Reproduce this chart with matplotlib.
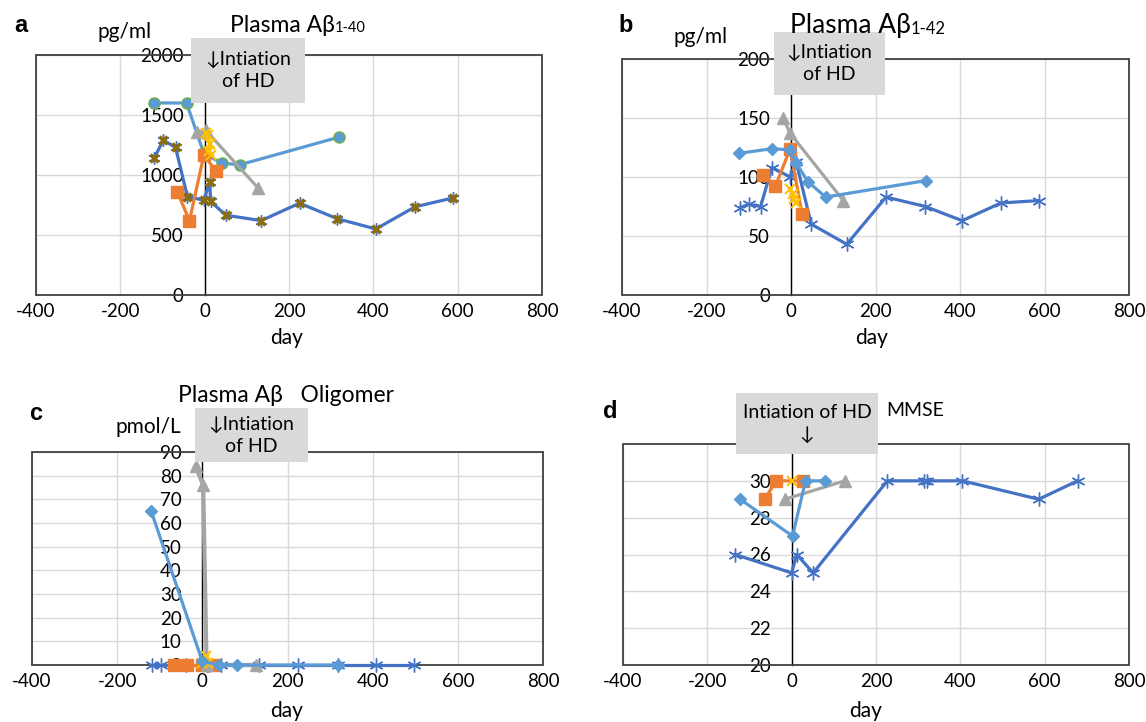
import matplotlib
matplotlib.use('Agg')
import matplotlib.pyplot as plt
from matplotlib.patches import Rectangle

plt.rcParams['font.family'] = ['Lato', 'DejaVu Sans']
plt.rcParams['axes.unicode_minus'] = False

W, H = 1146, 722

DBLUE = '#4472C4'
ORANGE = '#ED7D31'
GRAY = '#A5A5A5'
YELLOW = '#FFC000'
LBLUE = '#5B9BD5'
GREEN = '#70AD47'
BROWN = '#8C6D0B'
STAR = (6, 2, 0)

x_ticks = [-400, -200, 0, 200, 400, 600, 800]

# a: plasma Abeta 1-40 (pg/ml)
a_blue_day = [-120, -98, -69, -41, -2, 12, 14, 50, 134, 225, 315, 406, 499, 590]
a_blue_val = [1140, 1290, 1230, 820, 790, 940, 780, 665, 620, 765, 635, 550, 735, 810]
a_orange_day = [-65, -36, -2, 28]
a_orange_val = [860, 620, 1165, 1030]
a_gray_day = [-17, 2, 127]
a_gray_val = [1355, 1375, 890]
a_yellow_day = [3, 8, 12, 10, 14]
a_yellow_val = [1350, 1330, 1260, 1200, 1170]
a_lblue_day = [-120, -43, -2, 40, 83, 318]
a_lblue_val = [1600, 1600, 1180, 1100, 1085, 1315]
a_yticks = [0, 500, 1000, 1500, 2000]

# b: plasma Abeta 1-42 (pg/ml)
b_blue_day = [-120, -100, -72, -45, -2, 12, 48, 132, 225, 318, 405, 497, 586]
b_blue_val = [74, 77, 75, 108, 100, 113, 60, 43, 83, 75, 63, 78, 80]
b_orange_day = [-67, -37, -2, 26]
b_orange_val = [102, 92, 124, 69]
b_gray_day = [-19, -2, 124]
b_gray_val = [150, 137, 80]
b_yellow_day = [-2, 4, 8, 12]
b_yellow_val = [90, 86, 81, 78]
b_lblue_day = [-124, -45, -2, 12, 40, 82, 320]
b_lblue_val = [120, 124, 123, 112, 96, 83, 97]
b_yticks = [0, 50, 100, 150, 200]

# c: plasma Abeta oligomer (pmol/L)
c_blue_day = [-119, -96, -39, 11, 15, 45, 133, 225, 319, 408, 498]
c_blue_val = [0, 0, 0, 0, 0, 0, 0, 0, 0, 0, 0]
c_orange_day = [-67, -37, 0, 28]
c_orange_val = [0, 0, 0, 0]
c_gray_day = [-16, 2, 10, 125]
c_gray_val = [84, 76, 0, 0]
c_yellow_day = [0, 5, 9, 14]
c_yellow_val = [1, 2, 4, 1]
c_lblue_day = [-120, 0, 40, 82, 318]
c_lblue_val = [65, 1.5, 0, 0, 0]
c_yticks = [0, 10, 20, 30, 40, 50, 60, 70, 80, 90]

# d: MMSE
d_blue_day = [-134, 0, 12, 51, 227, 315, 322, 405, 586, 678]
d_blue_val = [26, 25, 26, 25, 30, 30, 30, 30, 29, 30]
d_orange_day = [-64, -37, 28]
d_orange_val = [29, 30, 30]
d_gray_day = [-16, 126]
d_gray_val = [29, 30]
d_yellow_day = [0]
d_yellow_val = [30]
d_lblue_day = [-122, 2, 33, 80]
d_lblue_val = [29, 27, 30, 30]
d_yticks = [20, 22, 24, 26, 28, 30]


def fx(x):
    return x / W


def fy(y):
    return 1 - y / H


def panel(left, top, right, bottom, ylim, yticks):
    ax = fig.add_axes([fx(left), fy(bottom), (right - left) / W, (bottom - top) / H])
    ax.set_xlim(-400, 800)
    ax.set_ylim(*ylim)
    ax.set_xticks(x_ticks)
    ax.set_yticks(yticks)
    ax.grid(color='#D9D9D9', lw=1)
    ax.set_axisbelow(True)
    for s in ['top', 'right', 'bottom']:
        ax.spines[s].set_visible(False)
    ax.spines['left'].set_position(('data', 0))
    ax.spines['left'].set_color('black')
    ax.spines['left'].set_linewidth(1)
    ax.add_patch(Rectangle((0, 0), 1, 1, transform=ax.transAxes, fill=False,
                           ec='#404040', lw=1.3, clip_on=False, zorder=3))
    ax.tick_params(axis='both', length=0, labelsize=13.5)
    ax.tick_params(axis='x', pad=6)
    ax.tick_params(axis='y', pad=15)
    return ax


def series(ax, days, vals, color, marker, ms, lw=2.3, **kw):
    ax.plot(days, vals, color=color, lw=lw, marker=marker, ms=ms, zorder=4,
            clip_on=False, **kw)


def hd_box(x0, y0, x1, y1, label, ty=None):
    fig.patches.append(Rectangle((fx(x0), fy(y1)), (x1 - x0) / W, (y1 - y0) / H,
                                 transform=fig.transFigure, fc='#D9D9D9', ec='none', zorder=10))
    fig.text(fx((x0 + x1) / 2), fy((y0 + y1) / 2 if ty is None else ty), label,
             ha='center', va='center', fontsize=14, linespacing=1.35, zorder=11)


def title_sub(x, y, main, sub, size, subsize):
    t = fig.text(fx(x), fy(y), main, fontsize=size, ha='left', va='baseline', zorder=12)
    fig.axes[0].annotate(sub, xy=(1, 0), xycoords=t, xytext=(0, 1), textcoords='offset points',
                         fontsize=subsize, ha='left', va='bottom', annotation_clip=False)


fig = plt.figure(figsize=(W / 100, H / 100), dpi=100)

# ---- panel a
ax = panel(36, 55, 542, 295, (0, 2000), a_yticks)
series(ax, a_blue_day, a_blue_val, DBLUE, STAR, 9, mew=1)
ax.plot(a_blue_day, a_blue_val, ls='none', marker='x', color=BROWN, ms=6, mew=2.5, zorder=4)
series(ax, a_lblue_day, a_lblue_val, LBLUE, 'o', 8, mec=GREEN, mew=1)
series(ax, a_orange_day, a_orange_val, ORANGE, 's', 9)
series(ax, a_gray_day, a_gray_val, GRAY, '^', 9)
series(ax, a_yellow_day, a_yellow_val, YELLOW, 'x', 7, mew=1.5)

# ---- panel b
bx = panel(622, 59, 1129, 295, (0, 200), b_yticks)
series(bx, b_blue_day, b_blue_val, DBLUE, STAR, 10, mew=1)
series(bx, b_orange_day, b_orange_val, ORANGE, 's', 8)
series(bx, b_gray_day, b_gray_val, GRAY, '^', 9)
series(bx, b_yellow_day, b_yellow_val, YELLOW, 'x', 7, mew=1.5)
series(bx, b_lblue_day, b_lblue_val, LBLUE, 'D', 6)

# ---- panel c
cx = panel(32, 452, 543, 665, (0, 90), c_yticks)
series(cx, c_blue_day, c_blue_val, DBLUE, STAR, 10, mew=1)
series(cx, c_orange_day, c_orange_val, ORANGE, 's', 8)
series(cx, c_gray_day, c_gray_val, GRAY, '^', 9, lw=3)
series(cx, c_yellow_day, c_yellow_val, YELLOW, 'x', 7, mew=1.5)
series(cx, c_lblue_day, c_lblue_val, LBLUE, 'D', 6)

# ---- panel d
dx = panel(623, 444, 1129, 665, (20, 32), d_yticks)
series(dx, d_blue_day, d_blue_val, DBLUE, STAR, 10, mew=1)
series(dx, d_orange_day, d_orange_val, ORANGE, 's', 8)
series(dx, d_gray_day, d_gray_val, GRAY, '^', 9)
series(dx, d_yellow_day, d_yellow_val, YELLOW, 'x', 7, mew=1.5)
series(dx, d_lblue_day, d_lblue_val, LBLUE, 'D', 6)

# x axis labels
for x, y in [(287, 338), (872, 338), (287, 711), (866, 711)]:
    fig.text(fx(x), fy(y), 'day', ha='center', va='center', fontsize=15)

# panel letters
for s, x, y in [('a', 21, 26), ('b', 626, 25), ('c', 36, 413), ('d', 610, 412)]:
    fig.text(fx(x), fy(y), s, ha='center', va='center', fontsize=17,
             fontweight='bold', family='Liberation Sans')

# units
fig.text(fx(125), fy(32), 'pg/ml', ha='center', va='center', fontsize=15)
fig.text(fx(701), fy(37), 'pg/ml', ha='center', va='center', fontsize=15)
fig.text(fx(148), fy(427), 'pmol/L', ha='center', va='center', fontsize=15)

# titles
title_sub(230, 32, 'Plasma Aβ', '1-40', 16.5, 10.5)
title_sub(790, 33, 'Plasma Aβ', '1-42', 19, 12)
fig.text(fx(178), fy(402), 'Plasma Aβ   Oligomer', ha='left', va='baseline', fontsize=16.5)
fig.text(fx(915), fy(410), 'MMSE', ha='center', va='center', fontsize=14)

# initiation of haemodialysis boxes
hd_box(191, 38, 305, 103, '↓Intiation\nof HD')
hd_box(774, 32, 885, 95, '↓Intiation\nof HD')
hd_box(195, 408, 308, 462, '↓Intiation\nof HD')
hd_box(736, 393, 878, 454, 'Intiation of HD\n↓')

fig.savefig('out.png', dpi=100)
